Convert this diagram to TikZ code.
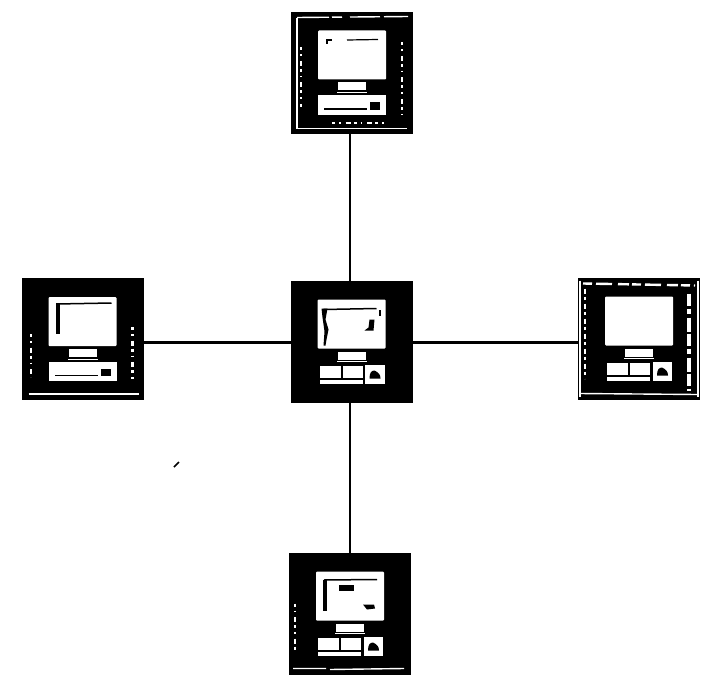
\documentclass[tikz,border=0pt]{standalone}
\tikzset{
  unitbox/.style={draw=black,fill=black,minimum width=121pt,minimum height=121pt,inner sep=0pt,outer sep=0pt},
  link/.style={draw=black,line width=2.8pt},
  lit/.style={fill=white,draw=none},
  ink/.style={fill=black,draw=none},
  rim/.style={draw=white,line width=1.4pt},
  speck/.style={draw=white,line width=2pt,dash pattern=on 3pt off 4pt on 1.5pt off 5pt on 5pt off 3pt},
  crack/.style={draw=black,line width=1.5pt}
}
% the monitor and its stand
\newcommand{\monitorparts}{%
  \path[lit,rounded corners=1pt] (-34,-42) rectangle (34,7);
  \path[lit] (-14,10) rectangle (14,18);
  \path[lit] (-15,19.5) rectangle (15,20.8);
}
% keyboard in two parts and a mouse square
\newcommand{\splitdesk}{%
  \path[lit] (-32,24) rectangle (11,42);
  \path[ink] (-11,24) rectangle (-9,37);
  \path[ink] (-32,36) rectangle (11,38);
  \path[lit] (13.5,23) rectangle (33,42);
  \path[ink] (18,37) .. controls (18,31) and (20,29) .. (23,29) .. controls (27,31) and (29,33) .. (29,37) -- cycle;
}
% one long keyboard
\newcommand{\longdesk}{%
  \path[lit] (-34,23) rectangle (34,42);
  \path[ink] (-28,35.5) rectangle (15,37);
  \path[ink] (18,30) rectangle (28,37);
}
\begin{document}
\begin{tikzpicture}[x=1pt,y=-1pt]
\useasboundingbox (0,0) rectangle (726,693);
\path[fill=white] (0,0) rectangle (726,693);

\node[unitbox] (hub) at (351.5,341.5) {};
\node[unitbox] (north) at (352,72.5) {};
\node[unitbox] (east) at (639,338.5) {};
\node[unitbox] (west) at (82.5,339) {};
\node[unitbox] (south) at (350,613.5) {};

\draw[link] ([xshift=-1.5pt]hub.north) -- ([xshift=-1.5pt]hub.north |- north.south);
\draw[link] ([yshift=-1pt]hub.east) -- ([yshift=-1pt]hub.east -| east.west);
\draw[link] ([yshift=-1pt]hub.west) -- ([yshift=-1pt]hub.west -| west.east);
\draw[link] ([xshift=-1.5pt]hub.south) -- ([xshift=-1.5pt]hub.south |- south.north);

% centre
\begin{scope}[shift={(hub.center)}]
  \monitorparts \splitdesk
  \draw[crack] (-28,-32) -- (25,-33);
  \path[ink] (-30,-33) -- (-24,-33) -- (-26,-22) -- (-23,-12) -- (-25,-2) -- (-26,4) -- (-28,4) -- (-27,-10) -- (-29,-24) -- cycle;
  \path[ink] (13,-11) -- (17,-14) -- (18,-22) -- (23,-22) -- (22,-11) -- cycle;
  \path[ink] (27,-32) rectangle (29,-26);
\end{scope}

% top
\begin{scope}[shift={(north.center)}]
  \monitorparts \longdesk
  \path[ink] (-26,-33) rectangle (-20,-31);
  \path[ink] (-26,-33) rectangle (-24,-28);
  \draw[crack,line width=1.2pt] (-5,-32.5) -- (26,-33);
  \draw[rim] (-55,-54) -- (-55,56) -- (55,56);
  \draw[rim,dash pattern=on 32pt off 3pt on 10pt off 8pt on 30pt off 4pt] (-55,-55) -- (56,-56);
  \draw[speck] (50,-30) -- (50,42);
  \draw[speck] (-51,-25) -- (-51,34);
  \draw[speck] (-20,50) -- (35,50);
\end{scope}

% right
\begin{scope}[shift={(east.center)}]
  \monitorparts \splitdesk
  \draw[rim] (-60,55) -- (58,56);
  \draw[rim,line width=2.4pt,dash pattern=on 9pt off 4pt on 16pt off 6pt on 11pt off 3pt] (-56,-55) -- (56,-53);
  \draw[rim,line width=2.4pt,dash pattern=on 5pt off 3pt on 3pt off 4pt] (-54,-50) -- (-54,40);
  \draw[rim,line width=3.5pt,dash pattern=on 12pt off 3pt on 5pt off 4pt on 14pt off 2pt] (50,-45) -- (50,52);
  \draw[rim] (-59,-58) -- (-59,58);
  \draw[rim] (59,-58) -- (59,58);
\end{scope}

% left
\begin{scope}[shift={(west.center)}]
  \monitorparts \longdesk
  \draw[crack] (-26,-35) -- (29,-36);
  \path[ink] (-27,-36) rectangle (-23,-5);
  \draw[rim] (-54,55) -- (56,55);
  \draw[speck] (-52,-5) -- (-52,38);
  \draw[speck,line width=2.5pt] (50,-12) -- (50,44);
\end{scope}

% bottom
\begin{scope}[shift={(south.center)}]
  \monitorparts \splitdesk
  \draw[crack] (-26,-33.5) -- (27,-34);
  \path[ink] (-27,-34) rectangle (-23,-3);
  \path[ink] (-11,-29) rectangle (4,-23);
  \path[ink] (13,-9) -- (24,-9) -- (25,-5) -- (17,-4) -- cycle;
  \draw[rim] (-57,55) -- (-24,55) (-20,56) -- (54,55);
  \draw[speck] (-55,-10) -- (-55,38);
\end{scope}

% stray speck
\draw[line width=1.6pt] (174,467) -- (179,462);
\end{tikzpicture}
\end{document}
